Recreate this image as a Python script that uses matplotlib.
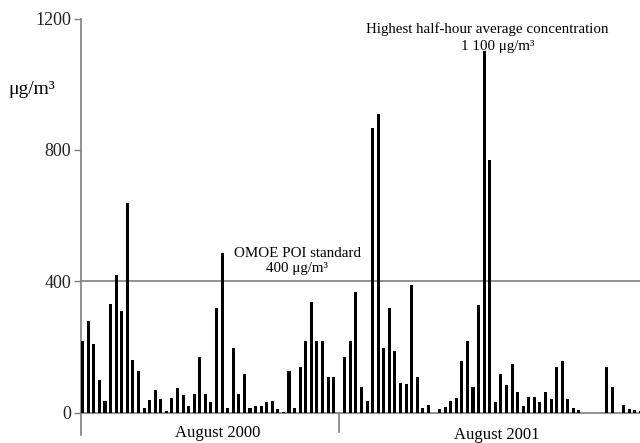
import matplotlib
matplotlib.use("Agg")
import matplotlib.pyplot as plt
import numpy as np

plt.rcParams['font.family'] = ['Liberation Serif', 'DejaVu Serif']

# Half-hour average concentrations (µg/m3), August 2000 and August 2001
aug2000 = [220, 280, 211, 100, 36, 330, 420, 309, 640, 160, 129, 14, 38, 70, 44, 5,
           46, 75, 54, 22, 57, 169, 57, 33, 320, 488, 14, 199, 57, 120, 16, 20, 20,
           34, 37, 12, 3, 129, 14, 140, 219, 338, 219, 219, 108, 108]
aug2001 = [170, 220, 369, 78, 37, 868, 909, 199, 320, 189, 90, 88, 389, 109, 14, 25,
           0, 12, 17, 37, 46, 159, 219, 78, 329, 1100, 769, 32, 120, 84, 149, 65, 21,
           50, 50, 32, 65, 44, 139, 159, 44, 14, 10, 0, 0, 0, 0, 139, 79, 0, 25, 13, 9, 7]
period_labels = ["August 2000", "August 2001"]
standard = 400
yticks = [0, 400, 800, 1200]

x2000 = np.arange(len(aug2000))
gap = len(aug2000)
x2001 = np.arange(len(aug2001)) + gap + 1

W, H = 640, 443
fig = plt.figure(figsize=(W / 100, H / 100), dpi=100)
left_px, right_px, top_px, bot_px = 80.7, 640, 18.5, 435
ax = fig.add_axes([left_px / W, (H - bot_px) / H, (right_px - left_px) / W, (bot_px - top_px) / H])

ax.bar(x2000, aug2000, width=0.55, color='black', zorder=3)
ax.bar(x2001, aug2001, width=0.55, color='black', zorder=3)

gray = '#7f7f7f'
ax.axhline(standard, color=gray, lw=1.2, zorder=2)
ax.axhline(0, color=gray, lw=1.2, zorder=2)
ax.plot([gap, gap], [0, -58], color=gray, lw=1.2, clip_on=False, zorder=2)

ax.set_xlim(-0.36, 99.95)
ax.set_ylim(-67, 1200)
ax.set_yticks(yticks)
ax.set_yticklabels([str(v) for v in yticks], fontsize=13, color='#222222')
ax.tick_params(axis='y', direction='out', length=5, width=1, color=gray, pad=2)
ax.set_xticks([])
for s in ['top', 'right', 'bottom']:
    ax.spines[s].set_visible(False)
ax.spines['left'].set_color(gray)
ax.spines['left'].set_linewidth(1.2)

ax.text(24.2, -62, period_labels[0], ha='center', va='center', fontsize=12)
ax.text(74.2, -66, period_labels[1], ha='center', va='center', fontsize=12)

ax.text(38.5, 486, "OMOE POI standard", ha='center', va='center', fontsize=10.8)
ax.text(38.5, 438, "400 μg/m³", ha='center', va='center', fontsize=10.8)
ax.text(72.5, 1167, "Highest half-hour average concentration", ha='center', va='center', fontsize=10.8)
ax.text(74.5, 1115, "1 100 μg/m³", ha='center', va='center', fontsize=10.8)

fig.text(8 / W, 1 - 90 / H, "μg/m³", ha='left', va='center', fontsize=14)

fig.savefig("out.png", dpi=100)
